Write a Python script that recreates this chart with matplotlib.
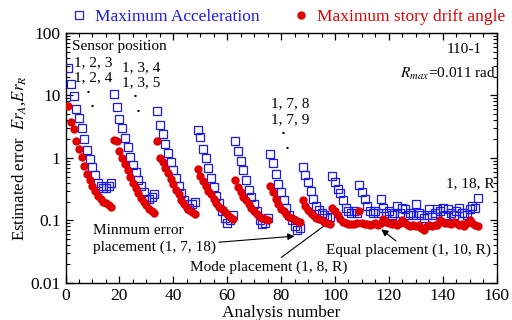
import numpy as np
import matplotlib
matplotlib.use("Agg")
import matplotlib.pyplot as plt
from matplotlib.ticker import MultipleLocator, FixedLocator, FixedFormatter, LogLocator, NullFormatter

plt.rcParams['font.family'] = ['Liberation Serif', 'DejaVu Serif']
plt.rcParams['mathtext.fontset'] = 'stix'

# analysis numbers 1..153
analysis = np.arange(1, 154)

# maximum acceleration (blue squares)
acc_err = [
    # 1-17
    28, 15, 9.8, 6.0, 4.3, 3.0, 2.0, 1.35, 0.95, 0.72, 0.53, 0.4, 0.35, 0.33, 0.33, 0.36, 0.4,
    # 18-33
    10.4, 6.6, 4.2, 3.0, 2.1, 1.5, 1.05, 0.78, 0.6, 0.45, 0.35, 0.28, 0.22, 0.22, 0.24, 0.26,
    # 34-48
    5.7, 3.4, 2.4, 1.7, 1.2, 0.86, 0.65, 0.48, 0.36, 0.27, 0.21, 0.18, 0.16, 0.18, 0.2,
    # 49-62
    2.8, 2.2, 1.4, 1.0, 0.7, 0.48, 0.34, 0.25, 0.19, 0.14, 0.11, 0.09, 0.1, 0.12,
    # 63-75
    1.85, 1.27, 0.9, 0.63, 0.44, 0.31, 0.24, 0.18, 0.14, 0.1, 0.088, 0.09, 0.11,
    # 76-87
    1.15, 0.83, 0.55, 0.38, 0.28, 0.21, 0.16, 0.12, 0.1, 0.08, 0.07, 0.075,
    # 88-98
    0.72, 0.53, 0.41, 0.3, 0.22, 0.17, 0.145, 0.13, 0.12, 0.11, 0.115,
    # 99-117
    0.52, 0.41, 0.32, 0.27, 0.21, 0.16, 0.14, 0.13, 0.14, 0.13,
    0.37, 0.29, 0.22, 0.17, 0.14, 0.13, 0.14, 0.13, 0.22,
    # 118-153
    0.16, 0.13, 0.14, 0.12, 0.13, 0.17, 0.13, 0.16, 0.15, 0.12, 0.13, 0.12,
    0.18, 0.13, 0.12, 0.11, 0.12, 0.15, 0.12, 0.13, 0.15, 0.14, 0.16, 0.12,
    0.15, 0.13, 0.12, 0.14, 0.16, 0.13, 0.13, 0.12, 0.15, 0.17, 0.16, 0.23,
]

# maximum story drift angle (red dots)
drift_err = [
    # 1-17
    6.9, 3.8, 2.9, 1.86, 1.38, 1.05, 0.75, 0.55, 0.45, 0.36, 0.3, 0.25, 0.22, 0.2, 0.19, 0.175, 0.165,
    # 18-33
    1.95, 1.85, 1.3, 1.0, 0.8, 0.63, 0.5, 0.4, 0.33, 0.27, 0.23, 0.2, 0.175, 0.155, 0.14, 0.13,
    # 34-48
    1.85, 1.0, 0.85, 0.7, 0.57, 0.46, 0.38, 0.31, 0.26, 0.21, 0.18, 0.16, 0.145, 0.135, 0.125,
    # 49-62
    0.66, 0.52, 0.42, 0.35, 0.3, 0.26, 0.22, 0.19, 0.165, 0.15, 0.135, 0.125, 0.115, 0.105,
    # 63-75
    0.44, 0.34, 0.28, 0.24, 0.21, 0.18, 0.16, 0.14, 0.125, 0.115, 0.11, 0.105, 0.1,
    # 76-87
    0.36, 0.28, 0.22, 0.18, 0.155, 0.14, 0.125, 0.115, 0.108, 0.102, 0.098, 0.095,
    # 88-98
    0.215, 0.17, 0.145, 0.13, 0.12, 0.11, 0.105, 0.1, 0.095, 0.09, 0.087,
    # 99-117
    0.16, 0.14, 0.12, 0.105, 0.095, 0.09, 0.088, 0.087, 0.087, 0.09,
    0.14, 0.09, 0.088, 0.087, 0.085, 0.088, 0.09, 0.085, 0.09,
    # 118-153
    0.105, 0.095, 0.09, 0.088, 0.09, 0.085, 0.09, 0.1, 0.09, 0.085, 0.08, 0.085,
    0.082, 0.085, 0.075, 0.07, 0.08, 0.083, 0.082, 0.085, 0.083, 0.1, 0.095, 0.09,
    0.09, 0.088, 0.095, 0.09, 0.085, 0.088, 0.082, 0.09, 0.1, 0.09, 0.085, 0.08,
]

y_ticks = [0.01, 0.1, 1, 10, 100]
y_tick_labels = ["0.01", "0.1", "1", "10", "100"]

blue = '#1a1aee'
red = '#e00000'

fig = plt.figure(figsize=(5.12, 3.2), dpi=100)
ax = fig.add_axes([0.128, 0.116, 0.842, 0.781])

ax.plot(analysis, acc_err, 's', ms=5.2, mfc='none', mec=blue, mew=0.9,
        label='Maximum Acceleration', zorder=3)
ax.plot(analysis, drift_err, 'o', ms=6, mfc=red, mec=red, mew=0,
        label='Maximum story drift angle', zorder=4)

ax.set_yscale('log')
ax.set_xlim(0, 160)
ax.set_ylim(0.01, 100)
ax.xaxis.set_major_locator(MultipleLocator(20))
ax.xaxis.set_minor_locator(MultipleLocator(5))
ax.yaxis.set_major_locator(FixedLocator(y_ticks))
ax.yaxis.set_major_formatter(FixedFormatter(y_tick_labels))
ax.yaxis.set_minor_locator(LogLocator(base=10, subs=np.arange(2, 10)))
ax.yaxis.set_minor_formatter(NullFormatter())
ax.tick_params(which='both', direction='in', top=True, right=True, labelsize=12.5)
ax.tick_params(which='major', length=5, width=0.9)
ax.tick_params(which='minor', length=3, width=0.8)
for s in ax.spines.values():
    s.set_linewidth(1.0)

ax.set_xlabel('Analysis number', fontsize=12.5, labelpad=1)
ax.set_ylabel(r'Estimated error  $Er_A$,$Er_R$', fontsize=12, labelpad=2)

# legend above the axes
leg = fig.legend(loc='upper center', bbox_to_anchor=(0.56, 1.02), ncol=2, frameon=False,
                 fontsize=12.5, handletextpad=0.3, columnspacing=1.8, handlelength=1.2)
leg.get_texts()[0].set_color(blue)
leg.get_texts()[1].set_color(red)

fs = 11
ax.text(2.4, 61, 'Sensor position', fontsize=fs, va='center')
ax.text(3.1, 34, '1, 2, 3', fontsize=fs, va='center')
ax.text(3.1, 19.5, '1, 2, 4', fontsize=fs, va='center')
ax.text(20.9, 28, '1, 3, 4', fontsize=fs, va='center')
ax.text(20.9, 16.2, '1, 3, 5', fontsize=fs, va='center')
ax.text(76.1, 7.4, '1, 7, 8', fontsize=fs, va='center')
ax.text(76.1, 4.1, '1, 7, 9', fontsize=fs, va='center')
for (dx, dy) in [(8.3, 10.7), (9.8, 6.4), (25.7, 9.3), (26.9, 5.3), (80.9, 2.35), (82.4, 1.35)]:
    ax.text(dx, dy, '·', fontsize=fs, ha='center', va='center', fontweight='bold')
ax.text(141.3, 0.38, '1, 18, R', fontsize=fs, va='center')
ax.text(154.3, 55, '110-1', fontsize=fs, ha='right', va='center')
ax.text(159.6, 22, r'$R_{max}$=0.011 rad', fontsize=fs, ha='right', va='center')

arrow = dict(arrowstyle='-|>', color='k', lw=0.8, mutation_scale=10, shrinkA=0, shrinkB=0)
ax.text(10.2, 0.069, 'Minmum error', fontsize=fs, va='center')
ax.annotate('placement (1, 7, 18)', xy=(85, 0.056), xytext=(10.2, 0.037),
            fontsize=fs, va='center', arrowprops=arrow)
ax.annotate('Mode placement (1, 8, R)', xy=(98.7, 0.1), xytext=(46.1, 0.018),
            fontsize=fs, va='center', arrowprops=arrow)
ax.annotate('Equal placement (1, 10, R)', xy=(117.2, 0.072), xytext=(96.5, 0.033),
            fontsize=fs, va='center', arrowprops=arrow)

fig.savefig('out.png', dpi=100)
